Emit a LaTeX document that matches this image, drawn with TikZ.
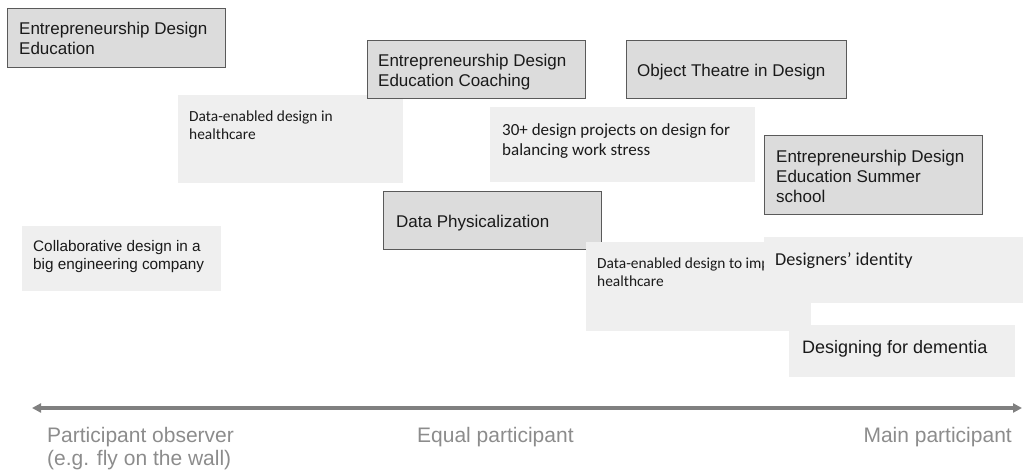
\documentclass[tikz,border=0pt]{standalone}
\usepackage{fontspec}
\setmainfont{Liberation Sans}
\newfontfamily\carlfont[Ligatures=NoCommon]{Carlito}
\usetikzlibrary{arrows.meta}
\definecolor{darkfill}{HTML}{DCDCDC}
\definecolor{darkline}{HTML}{5A5A5A}
\definecolor{lightfill}{HTML}{EFEFEF}
\definecolor{txtcol}{HTML}{1A1A1A}
\definecolor{axiscol}{HTML}{808080}
\definecolor{labcol}{HTML}{8C8C8C}
\tikzset{
  darkbox/.style={draw=darkline, line width=1.4pt, fill=darkfill, inner sep=0pt, anchor=north west},
  lightbox/.style={draw=none, fill=lightfill, inner sep=0pt, anchor=north west},
  txt/.style={inner sep=0pt, anchor=north west, align=left, text=txtcol},
  arial/.style={font=\fontsize{17}{20}\selectfont},
  carl/.style={font=\carlfont\fontsize{15.4}{18}\selectfont},
  axislab/.style={inner sep=0pt, align=left, text=labcol, font=\fontsize{21}{23}\selectfont},
}
\begin{document}
\begin{tikzpicture}[x=1pt, y=-1pt]
\useasboundingbox (0,0) rectangle (1023,474);
% 1
\node[darkbox, minimum width=218pt, minimum height=59pt] (ede) at (7,8) {};
\node[txt, arial] (edet) at (19,21.8) {Entrepreneurship Design\\Education};
% 2
\node[lightbox, minimum width=225pt, minimum height=88pt] (deh) at (178,95) {};
\node[txt, carl] (deht) at (189,110.2) {Data-enabled design in\\healthcare};
% 3
\node[darkbox, minimum width=218pt, minimum height=58pt] (edc) at (367,40) {};
\node[txt, arial] (edct) at (378,53.8) {Entrepreneurship Design\\Education Coaching};
% 4
\node[darkbox, minimum width=220pt, minimum height=58pt] (otd) at (626,40) {};
\node[txt, arial] (otdt) at (637,63.8) {Object Theatre in Design};
% 5
\node[lightbox, minimum width=265pt, minimum height=75pt] (dp30) at (490,107) {};
\node[txt, carl, font=\carlfont\fontsize{17}{20}\selectfont] (dp30t) at (502,123) {30+ design projects on design for\\balancing work stress};
% 6
\node[darkbox, minimum width=218pt, minimum height=79pt] (eds) at (764,135) {};
\node[txt, arial] (edst) at (776,149.8) {Entrepreneurship Design\\Education Summer\\school};
% 7
\node[darkbox, minimum width=218pt, minimum height=58pt] (dph) at (383,191) {};
\node[txt, arial] (dpht) at (396,214.8) {Data Physicalization};
% 8
\node[lightbox, minimum width=225pt, minimum height=89pt] (dei) at (586,242) {};
\begin{scope}
\clip (586,242) rectangle (764,331);
\node[txt, carl] (deit) at (597,257.2) {Data-enabled design to imp\\healthcare};
\end{scope}
% 9
\node[lightbox, minimum width=259pt, minimum height=66pt] (did) at (764,237) {};
\node[txt, carl, font=\carlfont\fontsize{18.2}{21}\selectfont] (didt) at (775,252.3) {Designers’ identity};
% 10
\node[lightbox, minimum width=226pt, minimum height=52pt] (dfd) at (789,325) {};
\node[txt, font=\fontsize{18}{21}\selectfont] (dfdt) at (802,340) {Designing for dementia};
% 11
\node[lightbox, minimum width=199pt, minimum height=65pt] (cde) at (22,226) {};
\node[txt, font=\fontsize{15.3}{18}\selectfont] (cdet) at (33,240) {Collaborative design in a\\big engineering company};
% axis
\coordinate (axl) at (32,408);
\coordinate (axr) at (1022,408);
\draw[axiscol, line width=3.2pt, {Triangle[length=9pt,width=9pt]}-{Triangle[length=9pt,width=9pt]}] (axl) -- (axr);
\node[axislab, anchor=north west] (lpo) at (47,427) {Participant observer\\(e.g. fly on the wall)};
\node[axislab, anchor=north west] (lep) at (417,427) {Equal participant};
\node[axislab, anchor=north east] (lmp) at (1012,427) {Main participant};
\end{tikzpicture}
\end{document}
